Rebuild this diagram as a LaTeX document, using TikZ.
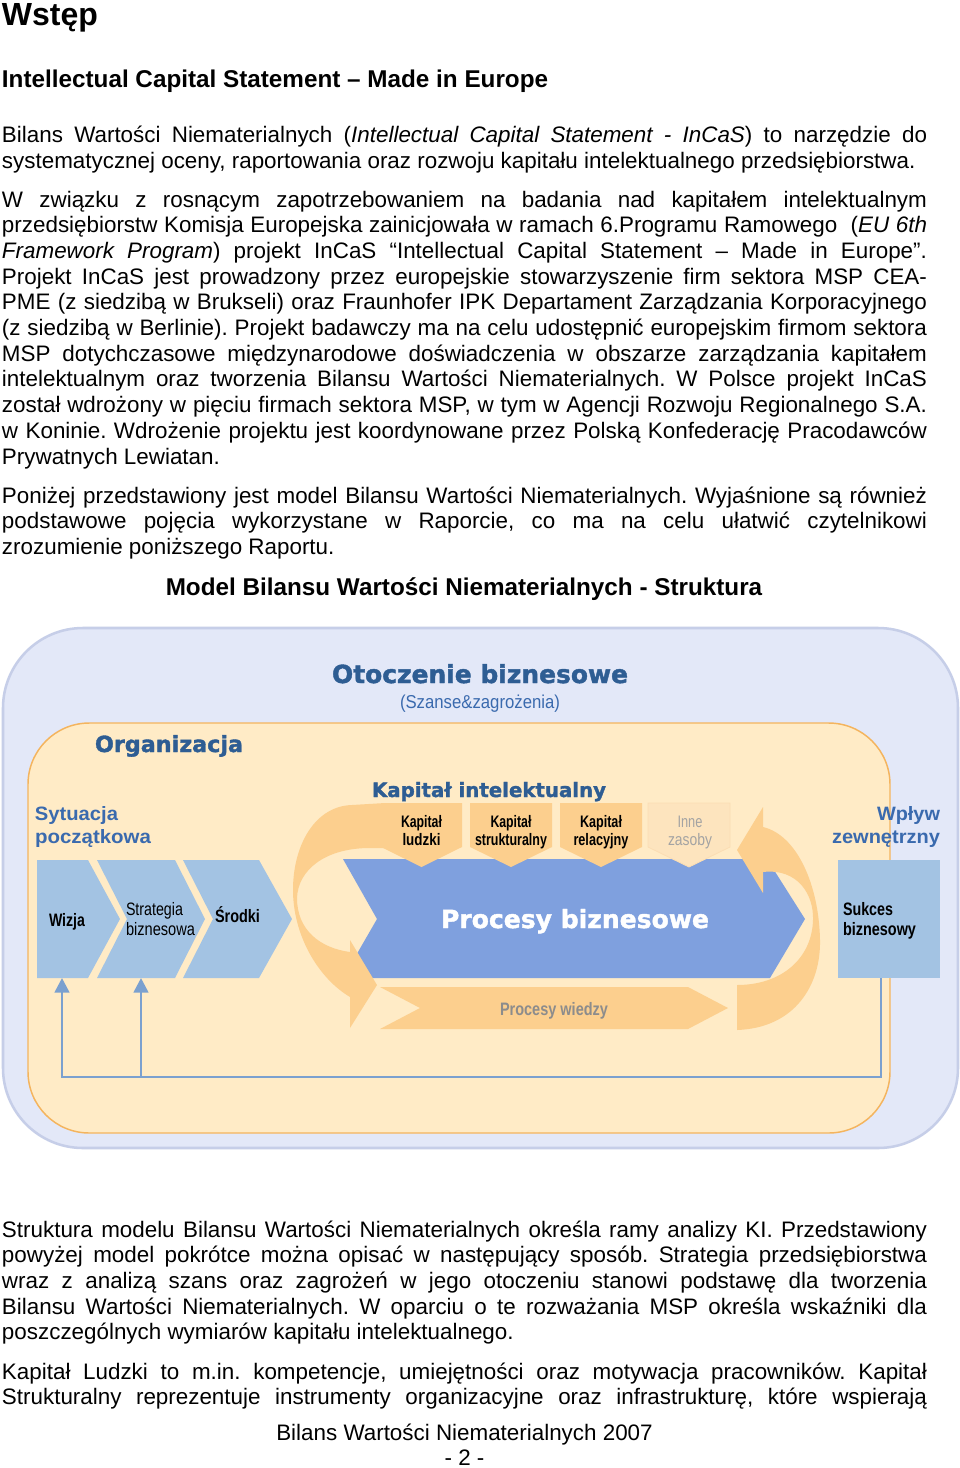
\documentclass[tikz,border=0pt]{standalone}
\usepackage{fontspec}
\setmainfont{Liberation Sans}
\newfontfamily\heavyfont{DejaVu Sans}[BoldFeatures={FakeBold=1.6}]
\usepackage{graphicx}
\usetikzlibrary{arrows.meta}
\definecolor{outerfill}{HTML}{E3E8F8}
\definecolor{outerline}{HTML}{C6CEE8}
\definecolor{innerfill}{HTML}{FFEBC6}
\definecolor{innerline}{HTML}{F4B45E}
\definecolor{chevblue}{HTML}{A3C3E3}
\definecolor{procblue}{HTML}{7FA0DE}
\definecolor{orangeA}{HTML}{FCCF8E}
\definecolor{innefill}{HTML}{FDE4BE}
\definecolor{inneline}{HTML}{FBDDB3}
\definecolor{lineblue}{HTML}{7BA0CF}
\definecolor{titleblue}{HTML}{2E5D93}
\definecolor{labelblue}{HTML}{3A6AAE}
\definecolor{grayA}{HTML}{8C8C8C}
\definecolor{grayB}{HTML}{A3A3A3}
\newdimen\pxu \pxu=0.75pt
\newcommand{\bodysize}{\fontsize{16.8pt}{19.5pt}\selectfont}
\newcommand{\J}[1]{\makebox[693.75pt][s]{#1}}
\newcommand{\fitw}[2]{\resizebox{#1\pxu}{\height}{#2}}
\newcommand{\fita}[2]{\resizebox{#1\pxu}{!}{#2}}
\frenchspacing
\begin{document}
\frenchspacing
\begin{tikzpicture}[x=0.75pt,y=-0.75pt,
  body/.style={anchor=base west,inner sep=0pt,outer sep=0pt,font=\bodysize},
  lbl/.style={anchor=base,inner sep=0pt,outer sep=0pt},
  lblw/.style={anchor=base west,inner sep=0pt,outer sep=0pt},
  lble/.style={anchor=base east,inner sep=0pt,outer sep=0pt},
  heavy/.style={inner sep=0pt,outer sep=0pt,text=titleblue,font=\heavyfont\bfseries\fontsize{20pt}{24pt}\selectfont},
  kapfont/.style={font=\bfseries\fontsize{12.5pt}{15pt}\selectfont},
  chevfont/.style={font=\fontsize{13.5pt}{16pt}\selectfont},
  sidefont/.style={text=labelblue,font=\bfseries\fontsize{14.5pt}{17pt}\selectfont},
  blueline/.style={draw=lineblue,line width=2pt},
  arr/.style={-{Triangle[width=11pt,length=11pt]}}
]
\fill[white] (0,0) rectangle (960,1468);
\useasboundingbox (0,0) rectangle (960,1468);

% ---------- headings ----------
\node[lblw] (wstep) at (2,25) {\fontsize{24pt}{28pt}\selectfont\bfseries Wstęp};
\node[lblw] (h1) at (2,87) {\fontsize{18.2pt}{22pt}\selectfont\bfseries Intellectual Capital Statement – Made in Europe};

% ---------- paragraph 1 ----------
\node[body] (p1a) at (2,142) {\J{Bilans Wartości Niematerialnych (\textit{Intellectual Capital Statement - InCaS}) to narzędzie do}};
\node[body] (p1b) at (2,168) {systematycznej oceny, raportowania oraz rozwoju kapitału intelektualnego przedsiębiorstwa.};

% ---------- paragraph 2 ----------
\node[body] (p2a) at (2,207) {\J{W związku z rosnącym zapotrzebowaniem na badania nad kapitałem intelektualnym}};
\node[body] (p2b) at (2,232.7) {\J{przedsiębiorstw Komisja Europejska zainicjowała w ramach 6.Programu Ramowego \ (\textit{EU 6th}}};
\node[body] (p2c) at (2,258.4) {\J{\textit{Framework Program}) projekt InCaS “Intellectual Capital Statement – Made in Europe”.}};
\node[body] (p2d) at (2,284.1) {\J{Projekt InCaS jest prowadzony przez europejskie stowarzyszenie firm sektora MSP CEA-}};
\node[body] (p2e) at (2,309.8) {\J{PME (z siedzibą w Brukseli) oraz Fraunhofer IPK Departament Zarządzania Korporacyjnego}};
\node[body] (p2f) at (2,335.5) {\J{(z siedzibą w Berlinie). Projekt badawczy ma na celu udostępnić europejskim firmom sektora}};
\node[body] (p2g) at (2,361.2) {\J{MSP dotychczasowe międzynarodowe doświadczenia w obszarze zarządzania kapitałem}};
\node[body] (p2h) at (2,386.9) {\J{intelektualnym oraz tworzenia Bilansu Wartości Niematerialnych. W Polsce projekt InCaS}};
\node[body] (p2i) at (2,412.6) {\J{został wdrożony w pięciu firmach sektora MSP, w tym w Agencji Rozwoju Regionalnego S.A.}};
\node[body] (p2j) at (2,438.3) {\J{w Koninie. Wdrożenie projektu jest koordynowane przez Polską Konfederację Pracodawców}};
\node[body] (p2k) at (2,464) {Prywatnych Lewiatan.};

% ---------- paragraph 3 ----------
\node[body] (p3a) at (2,503) {\J{Poniżej przedstawiony jest model Bilansu Wartości Niematerialnych. Wyjaśnione są również}};
\node[body] (p3b) at (2,528.7) {\J{podstawowe pojęcia wykorzystane w Raporcie, co ma na celu ułatwić czytelnikowi}};
\node[body] (p3c) at (2,554.4) {zrozumienie poniższego Raportu.};

\node[lbl] (title) at (464,595) {\fontsize{18.2pt}{22pt}\selectfont\bfseries Model Bilansu Wartości Niematerialnych - Struktura};

% ---------- diagram frames ----------
\filldraw[fill=outerfill,draw=outerline,line width=1.9pt,rounded corners=60pt] (3,628) rectangle (958,1148);
\filldraw[fill=innerfill,draw=innerline,line width=1.1pt,rounded corners=46pt] (28,723) rectangle (890,1133);

% ---------- left chevrons ----------
\fill[chevblue] (37,860) -- (88,860) -- (120,919) -- (88,978) -- (37,978) -- cycle;
\fill[chevblue] (97,860) -- (175,860) -- (205,919) -- (175,978) -- (97,978) -- (127,919) -- cycle;
\fill[chevblue] (183,860) -- (259,860) -- (292,919) -- (259,978) -- (183,978) -- (213,919) -- cycle;
\coordinate (wizjaB) at (62,978);
\coordinate (stratB) at (141,978);

% ---------- business process chevron ----------
\fill[procblue] (343,859) -- (767,859) -- (805,919) -- (770,978) -- (343,978) -- (377,919) -- cycle;

% ---------- knowledge processes ----------
\fill[orangeA] (380,987) -- (688,987) -- (728,1008) -- (688,1029) -- (380,1029) -- (420,1008) -- cycle;

% ---------- swirl arrows ----------
\fill[orangeA] (385,803) -- (352,805) .. controls (315,806) and (293,845) .. (293,890)
  .. controls (293,935) and (318,978) .. (350,997) -- (350,1028) -- (377,985) -- (350,940) -- (350,952)
  .. controls (320,948) and (297,930) .. (297,898) .. controls (298,870) and (325,848) .. (370,848)
  -- (385,848) -- cycle;
\fill[orangeA] (763,807) -- (737,850) -- (763,893) -- (763,872)
  .. controls (798,868) and (814,895) .. (813,920) .. controls (812,958) and (782,985) .. (737,985)
  -- (737,1030) .. controls (795,1028) and (821,985) .. (820,940)
  .. controls (819,885) and (797,835) .. (763,827) -- cycle;

% ---------- capital boxes ----------
\fill[orangeA] (381,803) -- (462,803) -- (462,847) -- (421.5,867) -- (381,847) -- cycle;
\fill[orangeA] (470,803) -- (552,803) -- (552,847) -- (511,867) -- (470,847) -- cycle;
\fill[orangeA] (560,803) -- (642,803) -- (642,847) -- (601,867) -- (560,847) -- cycle;
\filldraw[fill=innefill,draw=inneline,line width=0.6pt] (648,803) -- (730,803) -- (730,847) -- (689,867) -- (648,847) -- cycle;

% ---------- success box ----------
\node[fill=chevblue,minimum width=76.5pt,minimum height=88.5pt,inner sep=0pt,outer sep=0pt] (sukces) at (889,919) {};
\coordinate (sukB) at (881,978);
\coordinate (loopL) at (62,1077);
\coordinate (loopS) at (141,1077);

% ---------- feedback connectors ----------
\draw[blueline,arr] (sukB) |- (loopL) -- (wizjaB);
\draw[blueline,arr] (loopS) -- (stratB);

% ---------- diagram texts ----------
\node[heavy,anchor=base] (otocz) at (480,683) {\fita{296}{Otoczenie biznesowe}};
\node[lbl,text=labelblue] (szanse) at (480,708) {\fitw{160}{\fontsize{14pt}{16pt}\selectfont (Szanse\&zagrożenia)}};
\node[heavy,anchor=base west] (organ) at (95,752) {\fita{148}{Organizacja}};
\node[heavy,anchor=base west] (kapint) at (372,797) {\fita{234}{Kapitał intelektualny}};
\node[heavy,anchor=base,text=white] (procb) at (575,928) {\fita{268}{Procesy biznesowe}};

\node[lblw,sidefont] (syt1) at (35,820) {\fitw{83}{Sytuacja}};
\node[lblw,sidefont] (syt2) at (35,843) {\fitw{116}{początkowa}};
\node[lble,sidefont] (wpl1) at (940,820) {\fitw{63}{Wpływ}};
\node[lble,sidefont] (wpl2) at (940,843) {\fitw{108}{zewnętrzny}};

\node[lbl,kapfont] (k1a) at (421.5,827) {\fitw{41}{Kapitał}};
\node[lbl,kapfont] (k1b) at (421.5,845) {\fitw{38}{ludzki}};
\node[lbl,kapfont] (k2a) at (511,827) {\fitw{41}{Kapitał}};
\node[lbl,kapfont] (k2b) at (511,845) {\fitw{72}{strukturalny}};
\node[lbl,kapfont] (k3a) at (601,827) {\fitw{42}{Kapitał}};
\node[lbl,kapfont] (k3b) at (601,845) {\fitw{55}{relacyjny}};
\node[lbl,text=grayB,font=\fontsize{12.5pt}{15pt}\selectfont] (k4a) at (690,827) {\fitw{25}{Inne}};
\node[lbl,text=grayB,font=\fontsize{12.5pt}{15pt}\selectfont] (k4b) at (690,845) {\fitw{44}{zasoby}};

\node[lblw,chevfont] (wizja) at (49,926) {\fitw{36}{\bfseries Wizja}};
\node[lblw,chevfont] (strat1) at (126,915) {\fitw{57}{Strategia}};
\node[lblw,chevfont] (strat2) at (126,935) {\fitw{69}{biznesowa}};
\node[lblw,chevfont] (srodki) at (215,922) {\fitw{45}{\bfseries Środki}};
\node[lblw,chevfont] (suk1) at (843,915) {\fitw{50}{\bfseries Sukces}};
\node[lblw,chevfont] (suk2) at (843,935) {\fitw{73}{\bfseries biznesowy}};
\node[lbl,chevfont,text=grayA] (procw) at (554,1015) {\fitw{108}{\bfseries Procesy wiedzy}};

% ---------- paragraph 4 ----------
\node[body] (p4a) at (2,1237) {\J{Struktura modelu Bilansu Wartości Niematerialnych określa ramy analizy KI. Przedstawiony}};
\node[body] (p4b) at (2,1262.7) {\J{powyżej model pokrótce można opisać w następujący sposób. Strategia przedsiębiorstwa}};
\node[body] (p4c) at (2,1288.4) {\J{wraz z analizą szans oraz zagrożeń w jego otoczeniu stanowi podstawę dla tworzenia}};
\node[body] (p4d) at (2,1314.1) {\J{Bilansu Wartości Niematerialnych. W oparciu o te rozważania MSP określa wskaźniki dla}};
\node[body] (p4e) at (2,1339.8) {poszczególnych wymiarów kapitału intelektualnego.};

% ---------- paragraph 5 ----------
\node[body] (p5a) at (2,1379) {\J{Kapitał Ludzki to m.in. kompetencje, umiejętności oraz motywacja pracowników. Kapitał}};
\node[body] (p5b) at (2,1404.7) {\J{Strukturalny reprezentuje instrumenty organizacyjne oraz infrastrukturę, które wspierają}};

% ---------- footer ----------
\node[lbl,font=\bodysize] (foot1) at (464.5,1440) {Bilans Wartości Niematerialnych 2007};
\node[lbl,font=\bodysize] (foot2) at (464.5,1465) {- 2 -};
\end{tikzpicture}
\end{document}
